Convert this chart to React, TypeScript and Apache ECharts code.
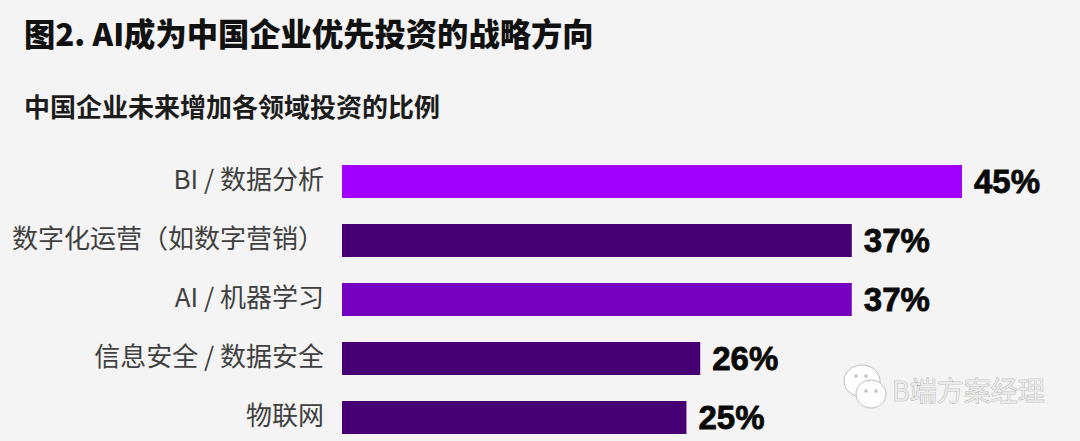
import React, { useEffect, useRef } from "react";
import * as echarts from "echarts";

const titleText = "图2. AI成为中国企业优先投资的战略方向";
const subtitleText = "中国企业未来增加各领域投资的比例";
const watermarkText = "B端方案经理";
const categories = ["BI / 数据分析", "数字化运营（如数字营销）", "AI / 机器学习", "信息安全 / 数据安全", "物联网"];
const values = [45, 37, 37, 26, 25];
const barColors = ["#a100ff", "#460073", "#7500c0", "#460073", "#460073"];

const CJK = '"Noto Sans CJK SC", "Noto Sans", sans-serif';
const LATIN = '"Liberation Sans", "Noto Sans CJK SC", sans-serif';

export default function App() {
  const ref = useRef<HTMLDivElement>(null);
  useEffect(() => {
    document.body.style.margin = "0";
    const chart = echarts.init(ref.current!, undefined, { renderer: "svg" });
    const bubble = { fill: "#ffffff", stroke: "#bdbdbd", lineWidth: 1 };
    const dot = { fill: "#c4c4c4" };
    chart.setOption({
      animation: false,
      backgroundColor: "#f4f4f4",
      grid: { left: 342, top: 152, width: 620, height: 295, containLabel: false, outerBoundsMode: "none" },
      xAxis: { type: "value", min: 0, max: 45, show: false },
      yAxis: {
        type: "category",
        data: categories,
        inverse: true,
        axisLine: { show: false },
        axisTick: { show: false },
        axisLabel: { color: "#404040", fontSize: 26, fontFamily: CJK, margin: 18, align: "right", verticalAlign: "bottom", lineHeight: 9, hideOverlap: false },
      },
      series: [
        {
          type: "bar",
          barWidth: 33,
          data: values.map((v, i) => ({ value: v, itemStyle: { color: barColors[i] } })),
          label: {
            show: true,
            position: "right",
            distance: 12,
            formatter: "{c}%",
            color: "#0a0a0a",
            fontSize: 33,
            fontWeight: "bold",
            fontFamily: LATIN,
            textBorderColor: "#0a0a0a",
            textBorderWidth: 0.8,
          },
        },
      ],
      graphic: [
        { type: "text", x: 24, y: 17, style: { text: titleText, fill: "#111111", font: `900 31.3px ${CJK}` } },
        { type: "text", x: 24, y: 92, style: { text: subtitleText, fill: "#1c1c1c", font: `bold 26px ${CJK}` } },
        { type: "ellipse", shape: { cx: 862, cy: 381, rx: 18, ry: 16 }, style: bubble },
        { type: "ellipse", shape: { cx: 871, cy: 394, rx: 15, ry: 14 }, style: bubble },
        { type: "circle", shape: { cx: 856, cy: 376, r: 1.8 }, style: dot },
        { type: "circle", shape: { cx: 866, cy: 376, r: 1.8 }, style: dot },
        { type: "circle", shape: { cx: 866, cy: 391, r: 1.8 }, style: dot },
        { type: "circle", shape: { cx: 876, cy: 391, r: 1.8 }, style: dot },
        { type: "text", x: 892, y: 376, style: { text: watermarkText, fill: "#e9e9e9", stroke: "#9a9a9a", lineWidth: 0.6, font: `27px ${CJK}` } },
      ],
    });
    return () => chart.dispose();
  }, []);
  return <div ref={ref} style={{ width: 1080, height: 441 }} />;
}
